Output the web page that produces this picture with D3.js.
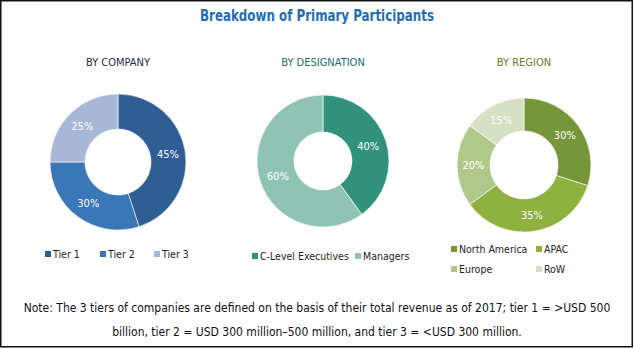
<!DOCTYPE html>
<html>
<head>
<meta charset="utf-8">
<script src="https://cdn.jsdelivr.net/npm/d3@7"></script>
<style>
  body { margin: 0; background: #fff; }
  svg text { font-family: "Liberation Sans Narrow", "DejaVu Sans Condensed", "Arial Narrow", sans-serif; }
</style>
</head>
<body>
<div id="grafica"></div>
<script>
// datos
const tituloGeneral = 'Breakdown of Primary Participants'
const companyCats = ['Tier 1', 'Tier 2', 'Tier 3']
const companyVals = [45, 30, 25]
const designationCats = ['C-Level Executives', 'Managers']
const designationVals = [40, 60]
const regionCats = ['North America', 'APAC', 'Europe', 'RoW']
const regionVals = [30, 35, 20, 15]
const notaLineas = [
    'Note: The 3 tiers of companies are defined on the basis of their total revenue as of 2017; tier 1 = >USD 500',
    'billion, tier 2 = USD 300 million\u2013500 million, and tier 3 = <USD 300 million.'
]

const width = 634
const height = 349

const svg = d3.select('#grafica')
    .append('svg')
    .attr('width', width)
    .attr('height', height)

// marco
svg.append('rect')
    .attr('x', 0.75).attr('y', 0.75)
    .attr('width', width - 2.5).attr('height', height - 3)
    .attr('fill', '#fff')
    .attr('stroke', '#111')
    .attr('stroke-width', 1.5)

svg.append('text')
    .attr('x', 317).attr('y', 21)
    .attr('text-anchor', 'middle')
    .attr('textLength', 234)
    .attr('lengthAdjust', 'spacingAndGlyphs')
    .style('font-size', '15px')
    .style('font-weight', 'bold')
    .style('fill', '#1f6db3')
    .text(tituloGeneral)

function dona(cfg) {
    const data = cfg.cats.map((c, i) => ({ cat: c, val: cfg.vals[i] }))
    const color = d3.scaleOrdinal().domain(cfg.cats).range(cfg.colores)

    svg.append('text')
        .attr('x', cfg.cx).attr('y', 66)
        .attr('text-anchor', 'middle')
        .style('font-size', '11px')
        .style('fill', cfg.colorTitulo)
        .text(cfg.titulo)

    const pie = d3.pie().sort(null).value(d => d.val)
    const arc = d3.arc().innerRadius(cfg.ri).outerRadius(cfg.ro)
    const arcLabel = d3.arc().innerRadius((cfg.ri + cfg.ro) / 2).outerRadius((cfg.ri + cfg.ro) / 2)

    const g = svg.append('g')
        .attr('transform', `translate(${cfg.cx}, ${cfg.cy})`)

    g.selectAll('.slice')
        .data(pie(data))
        .enter().append('path')
        .attr('class', 'slice')
        .attr('d', arc)
        .attr('fill', d => color(d.data.cat))
        .attr('stroke', '#fff')
        .attr('stroke-width', 0.6)

    g.selectAll('.pct')
        .data(pie(data))
        .enter().append('text')
        .attr('transform', d => `translate(${arcLabel.centroid(d)})`)
        .attr('dy', 4)
        .attr('text-anchor', 'middle')
        .style('font-size', '11px')
        .style('fill', '#fff')
        .text(d => d.data.val + '%')

    // leyenda
    const ley = svg.selectAll('.ley-' + cfg.id)
        .data(data)
        .enter().append('g')
        .attr('transform', (d, i) => `translate(${cfg.leyX[i]}, ${cfg.leyY[i]})`)
    ley.append('rect')
        .attr('x', 0).attr('y', -3)
        .attr('width', 6).attr('height', 6)
        .attr('fill', d => color(d.cat))
    ley.append('text')
        .attr('x', 8).attr('y', 4)
        .style('font-size', '10.5px')
        .style('fill', '#222')
        .text(d => d.cat)
}

dona({
    id: 'company', titulo: 'BY COMPANY', colorTitulo: '#1d2a44',
    cats: companyCats, vals: companyVals,
    colores: ['#2e5e94', '#3a77b7', '#a7b7d7'],
    cx: 118, cy: 162, ro: 68, ri: 33,
    leyX: [45, 100, 154], leyY: [254, 254, 254]
})

dona({
    id: 'designation', titulo: 'BY DESIGNATION', colorTitulo: '#1c6a76',
    cats: designationCats, vals: designationVals,
    colores: ['#32917d', '#8fc4b5'],
    cx: 323, cy: 161, ro: 66, ri: 29,
    leyX: [252, 355], leyY: [256, 256]
})

dona({
    id: 'region', titulo: 'BY REGION', colorTitulo: '#6b7a2b',
    cats: regionCats, vals: regionVals,
    colores: ['#76963a', '#8fb13f', '#b0c98a', '#d4e1c2'],
    cx: 524, cy: 165, ro: 67, ri: 34,
    leyX: [451, 536, 451, 536], leyY: [249, 249, 269, 269]
})

svg.selectAll('.nota')
    .data(notaLineas)
    .enter().append('text')
    .attr('x', 317)
    .attr('y', (d, i) => 312 + i * 24)
    .attr('text-anchor', 'middle')
    .style('font-size', '12px')
    .style('fill', '#111')
    .text(d => d)
</script>
</body>
</html>
